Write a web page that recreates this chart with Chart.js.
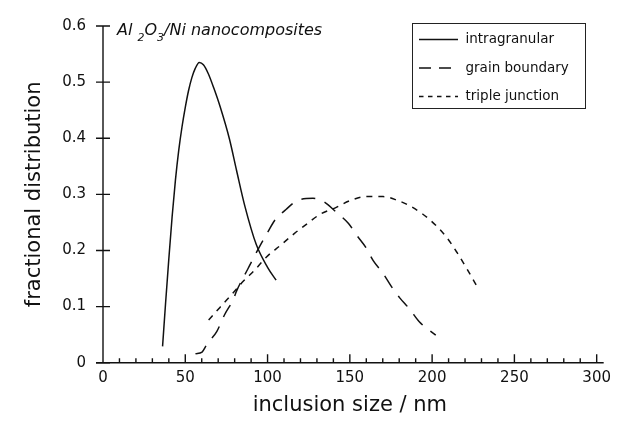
<!DOCTYPE html>
<html>
<head>
<meta charset="utf-8">
<script src="https://cdn.jsdelivr.net/npm/chart.js@4"></script>
<style>
  html, body { margin: 0; padding: 0; background: #fff; }
  #wrap { width: 617px; height: 425px; position: relative; }
</style>
</head>
<body>
<div id="wrap"><canvas id="c" width="617" height="425"></canvas></div>
<script>
// ---- data ----
const seriesNames = ["intragranular", "grain boundary", "triple junction"];

const intraX = [36.2, 38, 40, 42, 44, 46, 48, 50, 52, 54, 56, 58.5, 61, 64, 67.5, 71.2, 76.8, 81.2, 86.2, 93.2, 100, 105.2];
const intraY = [0.029, 0.105, 0.185, 0.26, 0.325, 0.378, 0.42, 0.455, 0.485, 0.508, 0.524, 0.535, 0.531, 0.515, 0.488, 0.456, 0.399, 0.342, 0.279, 0.210, 0.170, 0.147];

const gbX = [56.2, 60.2, 63.2, 69.2, 73.8, 79.2, 81.2, 88, 94.8, 100.2, 104.2, 111.2, 118.2, 127.6, 134.2, 142.2, 149.2, 154.2, 159.8, 164.2, 170.2, 175.2, 180.2, 186.2, 192.2, 202.2];
const gbY = [0.016, 0.019, 0.033, 0.056, 0.085, 0.113, 0.128, 0.167, 0.205, 0.233, 0.253, 0.273, 0.289, 0.293, 0.287, 0.267, 0.248, 0.227, 0.205, 0.182, 0.159, 0.136, 0.116, 0.096, 0.073, 0.049];

const tjX = [64.2, 71.2, 80.2, 85.2, 92.2, 99.2, 108.2, 116.2, 124.2, 132.2, 141.2, 150.2, 160.2, 170.2, 179.2, 186.2, 194.2, 202.2, 209.2, 215.2, 221.2, 227.8];
const tjY = [0.076, 0.099, 0.128, 0.145, 0.165, 0.188, 0.210, 0.230, 0.248, 0.265, 0.276, 0.289, 0.296, 0.296, 0.289, 0.280, 0.265, 0.245, 0.222, 0.196, 0.167, 0.133];

const xTicks = [0, 50, 100, 150, 200, 250, 300];
const xMinorStep = 10;
const yTicks = [0, 0.1, 0.2, 0.3, 0.4, 0.5, 0.6];
const xTitle = "inclusion size / nm";
const yTitle = "fractional distribution";

// ---- build ----
const FONT = "DejaVu Sans";
const INK = "#111";
const toPts = (xs, ys) => xs.map((x, i) => ({ x: x, y: ys[i] }));

const curveDash = [[], [14, 10], [6, 6]];
const legendDash = [[], [12, 8], [4.5, 4.5]];

const datasets = [
  { label: seriesNames[0], data: toPts(intraX, intraY), borderDash: curveDash[0] },
  { label: seriesNames[1], data: toPts(gbX, gbY), borderDash: curveDash[1] },
  { label: seriesNames[2], data: toPts(tjX, tjY), borderDash: curveDash[2] }
].map(d => Object.assign(d, {
  borderColor: INK, borderWidth: 1.5, pointRadius: 0, fill: false,
  cubicInterpolationMode: 'monotone', showLine: true
}));

const decor = {
  id: 'decor',
  afterDraw(chart) {
    const ctx = chart.ctx;
    const xs = chart.scales.x, ys = chart.scales.y;
    const x0 = xs.getPixelForValue(0), y0 = ys.getPixelForValue(0);
    const xEnd = xs.getPixelForValue(300), yTop = ys.getPixelForValue(0.6);
    ctx.save();
    ctx.strokeStyle = INK; ctx.lineWidth = 1.4; ctx.setLineDash([]);
    // axes lines
    ctx.beginPath();
    ctx.moveTo(x0, yTop); ctx.lineTo(x0, y0);
    ctx.moveTo(x0 - 7, y0); ctx.lineTo(xEnd + 7, y0);
    ctx.stroke();
    // y ticks crossing axis
    ctx.beginPath();
    yTicks.forEach(v => { const p = ys.getPixelForValue(v); ctx.moveTo(x0 - 7, p); ctx.lineTo(x0 + 7, p); });
    ctx.stroke();
    // x ticks inward
    ctx.beginPath();
    for (let v = xMinorStep; v <= 300; v += xMinorStep) {
      const p = xs.getPixelForValue(v);
      const major = xTicks.includes(v);
      ctx.moveTo(p, y0); ctx.lineTo(p, y0 - (major ? 8.5 : 4.5));
    }
    ctx.stroke();

    // annotation Al2O3/Ni nanocomposites
    ctx.fillStyle = INK;
    ctx.textBaseline = 'alphabetic';
    const big = "italic 16px '" + FONT + "'", small = "italic 11px '" + FONT + "'";
    let ax = 117, ay = 35;
    const parts = [["Al ", big, 0], ["2", small, 6], ["O", big, 0], ["3", small, 6], ["/Ni nanocomposites", big, 0]];
    parts.forEach(([t, f, dy]) => { ctx.font = f; ctx.fillText(t, ax, ay + dy); ax += ctx.measureText(t).width; });

    // legend box
    ctx.lineWidth = 1; ctx.strokeStyle = "#222";
    ctx.strokeRect(412.5, 23.5, 173, 85);
    const rows = [39.5, 68, 96.5];
    ctx.font = "13.5px '" + FONT + "'";
    ctx.textBaseline = 'middle';
    chart.data.datasets.forEach((d, i) => {
      ctx.setLineDash(legendDash[i]);
      ctx.lineWidth = 1.4; ctx.strokeStyle = INK;
      ctx.beginPath(); ctx.moveTo(419, rows[i]); ctx.lineTo(458, rows[i]); ctx.stroke();
      ctx.setLineDash([]);
      ctx.fillText(d.label, 465.5, rows[i]);
    });
    ctx.restore();
  }
};

new Chart(document.getElementById('c'), {
  type: 'scatter',
  data: { datasets: datasets },
  options: {
    responsive: false, animation: false,
    layout: { padding: { top: 13, right: 14, left: 0, bottom: 0 } },
    plugins: { legend: { display: false }, tooltip: { enabled: false } },
    scales: {
      x: {
        type: 'linear', min: 0, max: 300,
        afterFit: s => { s.height = 62.3; },
        afterBuildTicks: s => { s.ticks = xTicks.map(v => ({ value: v })); },
        grid: { display: false, drawTicks: false },
        border: { display: false },
        ticks: { font: { family: FONT, size: 15 }, color: INK, padding: 6, maxRotation: 0, autoSkip: false, callback: v => String(v) },
        title: { display: true, text: xTitle, font: { family: FONT, size: 21 }, color: INK, padding: { top: 0, bottom: 7 } }
      },
      y: {
        type: 'linear', min: 0, max: 0.6,
        afterFit: s => { s.width = 103; },
        afterBuildTicks: s => { s.ticks = yTicks.map(v => ({ value: v })); },
        grid: { display: false, drawTicks: false },
        border: { display: false },
        ticks: { font: { family: FONT, size: 15 }, color: INK, padding: 17, autoSkip: false, callback: v => String(v) },
        title: { display: true, text: yTitle, font: { family: FONT, size: 21 }, color: INK, padding: { top: 22, bottom: 0 } }
      }
    }
  },
  plugins: [decor]
});
</script>
</body>
</html>
